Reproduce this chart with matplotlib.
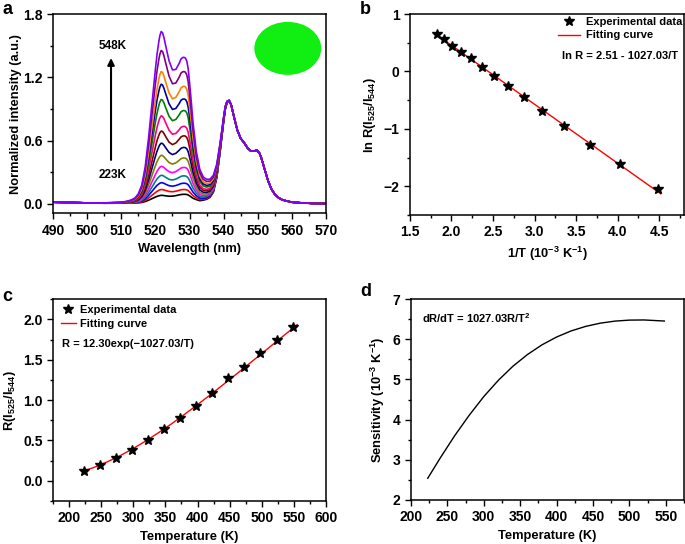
import numpy as np
import matplotlib
matplotlib.use('Agg')
import matplotlib.pyplot as plt
from matplotlib.patches import Ellipse
from matplotlib.lines import Line2D
from matplotlib.ticker import MultipleLocator, FormatStrFormatter

plt.rcParams['font.family'] = ['Liberation Sans', 'DejaVu Sans']
plt.rcParams['font.weight'] = 'bold'
plt.rcParams['axes.labelweight'] = 'bold'
plt.rcParams['mathtext.fontset'] = 'custom'
plt.rcParams['mathtext.rm'] = 'Liberation Sans:bold'
plt.rcParams['mathtext.bf'] = 'Liberation Sans:bold'
plt.rcParams['mathtext.it'] = 'Liberation Sans:bold:italic'
plt.rcParams['mathtext.default'] = 'rm'

# ---- panel a: emission spectra (223K -> 548K, step 25K) ----
wl = [490, 495, 500, 505, 510, 511, 512, 513, 514, 515,
      516, 517, 518, 519, 520, 520.5, 521, 521.3, 521.7, 522.1,
      522.5, 523, 524, 525, 526, 527, 527.5, 528, 528.4, 528.8,
      529.2, 529.6, 530, 530.5, 531, 532, 533, 534, 535, 536,
      537, 538, 539, 540, 540.5, 541, 541.6, 542.2, 543, 544,
      545, 546, 547, 548, 549, 549.7, 550.5, 551, 552, 553,
      554, 555, 556, 557, 558, 560, 563, 566, 570]
# part shared by all temperatures (544 nm group, normalised)
common = [0.015, 0.012, 0.008, 0.005, 0.005, 0.005, 0.005, 0.005, 0.005, 0.005,
          0.005, 0.005, 0.005, 0.005, 0.005, 0.005, 0.005, 0.005, 0.005, 0.005,
          0.005, 0.005, 0.005, 0.005, 0.005, 0.005, 0.005, 0.005, 0.005, 0.005,
          0.005, 0.005, 0.005, 0.005, 0.005, 0.01, 0.01, 0.02, 0.03, 0.05,
          0.10, 0.24, 0.50, 0.78, 0.90, 0.96, 0.98, 0.94, 0.83, 0.70,
          0.62, 0.58, 0.53, 0.50, 0.50, 0.51, 0.48, 0.44, 0.33, 0.22,
          0.14, 0.09, 0.06, 0.04, 0.03, 0.015, 0.008, 0.004, 0.002]
# 521 nm band profile (peak = 1)
band_521 = [0, 0, 0, 0.002, 0.006, 0.009, 0.013, 0.02, 0.03, 0.055,
            0.105, 0.21, 0.38, 0.58, 0.78, 0.87, 0.94, 0.975, 1.0, 0.98,
            0.94, 0.86, 0.66, 0.42, 0.22, 0.09, 0.05, 0.02, 0] + [0] * 40
# 528 nm band profile (peak = 1)
band_528 = [0] * 19 + [0.015,
            0.03, 0.07, 0.2, 0.42, 0.658, 0.854, 0.93, 0.975, 1.0, 0.995,
            0.975, 0.925, 0.83, 0.70, 0.56, 0.35, 0.23, 0.17, 0.146, 0.132,
            0.123, 0.10, 0.06, 0.03, 0.02, 0.01, 0] + [0] * 22
h521 = [0.075, 0.13, 0.195, 0.265, 0.35, 0.455, 0.57, 0.685, 0.83, 0.985, 1.13, 1.25, 1.45, 1.63]
h528 = [0.085, 0.13, 0.19, 0.26, 0.34, 0.43, 0.53, 0.64, 0.73, 0.88, 0.99, 1.11, 1.25, 1.385]
spec_colors = ['#000000', '#ff0000', '#0000ff', '#008080', '#ff00ff', '#808000', '#000080',
               '#800000', '#ff0080', '#008000', '#0000a0', '#ff8000', '#800080', '#8000ff']

# ---- panel b ----
inv_T = [1.825, 1.912, 2.008, 2.114, 2.232, 2.364, 2.513, 2.681, 2.874, 3.096, 3.356, 3.663, 4.032, 4.484]
ln_R = [0.65, 0.565, 0.453, 0.348, 0.244, 0.087, -0.075, -0.249, -0.436, -0.697, -0.958, -1.289, -1.613, -2.049]
fit_inv_T = [1.79, 4.52]
fit_ln_R = [0.672, -2.132]

# ---- panel c ----
temp = [223, 248, 273, 298, 323, 348, 373, 398, 423, 448, 473, 498, 523, 548]
ratio = [0.125, 0.193, 0.280, 0.384, 0.50, 0.643, 0.78, 0.921, 1.084, 1.268, 1.413, 1.58, 1.746, 1.905]
fit_T = [223, 240, 260, 280, 300, 320, 340, 360, 380, 400, 420, 440, 460, 480, 500, 520, 540, 555]
fit_R = [0.123, 0.170, 0.237, 0.314, 0.401, 0.497, 0.600, 0.709, 0.825, 0.944, 1.067, 1.192,
         1.319, 1.448, 1.577, 1.707, 1.836, 1.933]

# ---- panel d ----
sens_T = [223, 240, 260, 280, 300, 320, 340, 360, 380, 400, 420, 440, 460, 480, 500, 520, 548]
sens = [2.54, 3.04, 3.60, 4.11, 4.575, 4.98, 5.33, 5.622, 5.864, 6.058, 6.21, 6.323,
        6.403, 6.454, 6.479, 6.483, 6.456]

assert len(wl) == len(common) == len(band_521) == len(band_528)

fig = plt.figure(figsize=(6.85, 5.44), dpi=100)
ax_a = fig.add_axes([0.0774, 0.608, 0.3985, 0.366])
ax_b = fig.add_axes([0.5985, 0.605, 0.4000, 0.369])
ax_c = fig.add_axes([0.0774, 0.079, 0.3985, 0.371])
ax_d = fig.add_axes([0.6000, 0.081, 0.3985, 0.369])

LAB = 9.3


def style(ax):
    for s in ax.spines.values():
        s.set_linewidth(1.1)
    ax.tick_params(which='both', direction='out', top=False, right=False,
                   labelsize=10, width=1.0)
    ax.tick_params(which='major', length=4)
    ax.tick_params(which='minor', length=2.5)


def legend_at(ax, x0, y0, hl, pad):
    handles = [Line2D([], [], linestyle='none', marker='*', color='k', markersize=7.5),
               Line2D([], [], color='red', lw=1.0)]
    ax.legend(handles, ['Experimental data', 'Fitting curve'], loc='upper left',
              bbox_to_anchor=(x0, y0), borderpad=0, borderaxespad=0, frameon=False,
              fontsize=8, handlelength=hl, handletextpad=pad, labelspacing=0.3)


# panel a
wl_arr = np.array(wl)
for k in range(len(h521)):
    y = np.array(common) + h521[k] * np.array(band_521) + h528[k] * np.array(band_528)
    ax_a.plot(wl_arr, y, color=spec_colors[k], lw=1.2)
ax_a.set_xlim(490, 570)
ax_a.set_ylim(-0.09, 1.8)
ax_a.xaxis.set_major_locator(MultipleLocator(10))
ax_a.xaxis.set_minor_locator(MultipleLocator(5))
ax_a.yaxis.set_major_locator(MultipleLocator(0.6))
ax_a.yaxis.set_minor_locator(MultipleLocator(0.3))
ax_a.yaxis.set_major_formatter(FormatStrFormatter('%.1f'))
ax_a.set_xlabel('Wavelength (nm)', fontsize=LAB)
ax_a.set_ylabel('Normalized intensity (a.u.)', fontsize=LAB, labelpad=1)
ax_a.add_patch(Ellipse((0.86, 0.828), 0.245, 0.266, transform=ax_a.transAxes,
                       facecolor='#11ee11', edgecolor='none'))
ax_a.annotate('', xy=(507, 1.41), xytext=(507, 0.39),
              arrowprops=dict(arrowstyle='-|>', color='k', lw=1.5, mutation_scale=10))
ax_a.text(507.5, 1.50, '548K', ha='center', va='center', fontsize=8.5)
ax_a.text(507.5, 0.275, '223K', ha='center', va='center', fontsize=8.5)
style(ax_a)

# panel b
ax_b.plot(fit_inv_T, fit_ln_R, color='red', lw=1.0)
ax_b.plot(inv_T, ln_R, linestyle='none', marker='*', color='k', markersize=7.5)
ax_b.set_xlim(1.5, 4.8)
ax_b.set_ylim(-2.5, 1)
ax_b.xaxis.set_major_locator(MultipleLocator(0.5))
ax_b.xaxis.set_minor_locator(MultipleLocator(0.25))
ax_b.yaxis.set_major_locator(MultipleLocator(1))
ax_b.yaxis.set_minor_locator(MultipleLocator(0.5))
ax_b.set_xlabel('1/T (10$^{-3}$ K$^{-1}$)', fontsize=LAB)
ax_b.set_ylabel('ln R(I$_{525}$/I$_{544}$)', fontsize=LAB)
legend_at(ax_b, 0.542, 0.985, 1.9, 0.6)
ax_b.text(0.556, 0.79, 'ln R = 2.51 - 1027.03/T', transform=ax_b.transAxes,
          fontsize=8, va='center')
style(ax_b)

# panel c
ax_c.plot(fit_T, fit_R, color='red', lw=1.0)
ax_c.plot(temp, ratio, linestyle='none', marker='*', color='k', markersize=7.5)
ax_c.set_xlim(175, 600)
ax_c.set_ylim(-0.25, 2.25)
ax_c.xaxis.set_major_locator(MultipleLocator(50))
ax_c.xaxis.set_minor_locator(MultipleLocator(25))
ax_c.yaxis.set_major_locator(MultipleLocator(0.5))
ax_c.yaxis.set_minor_locator(MultipleLocator(0.25))
ax_c.set_xlabel('Temperature (K)', fontsize=LAB)
ax_c.set_ylabel('R(I$_{525}$/I$_{544}$)', fontsize=LAB)
legend_at(ax_c, 0.029, 0.970, 1.35, 0.36)
ax_c.text(0.033, 0.777, 'R = 12.30exp(\u22121027.03/T)', transform=ax_c.transAxes,
          fontsize=8, va='center')
style(ax_c)

# panel d
ax_d.plot(sens_T, sens, color='k', lw=1.0)
ax_d.set_xlim(200, 575)
ax_d.set_ylim(2, 7)
ax_d.xaxis.set_major_locator(MultipleLocator(50))
ax_d.xaxis.set_minor_locator(MultipleLocator(25))
ax_d.yaxis.set_major_locator(MultipleLocator(1))
ax_d.yaxis.set_minor_locator(MultipleLocator(0.5))
ax_d.set_xlabel('Temperature (K)', fontsize=LAB)
ax_d.set_ylabel('Sensitivity (10$^{-3}$ K$^{-1}$)', fontsize=LAB)
ax_d.text(0.04, 0.905, 'dR/dT = 1027.03R/T$^2$', transform=ax_d.transAxes,
          fontsize=8, va='center')
style(ax_d)

fig.text(0.003, 0.998, 'a', fontsize=13, weight='bold', va='top')
fig.text(0.526, 0.998, 'b', fontsize=13, weight='bold', va='top')
fig.text(0.003, 0.470, 'c', fontsize=13, weight='bold', va='top')
fig.text(0.526, 0.480, 'd', fontsize=13, weight='bold', va='top')

fig.savefig('out.png', dpi=100)
